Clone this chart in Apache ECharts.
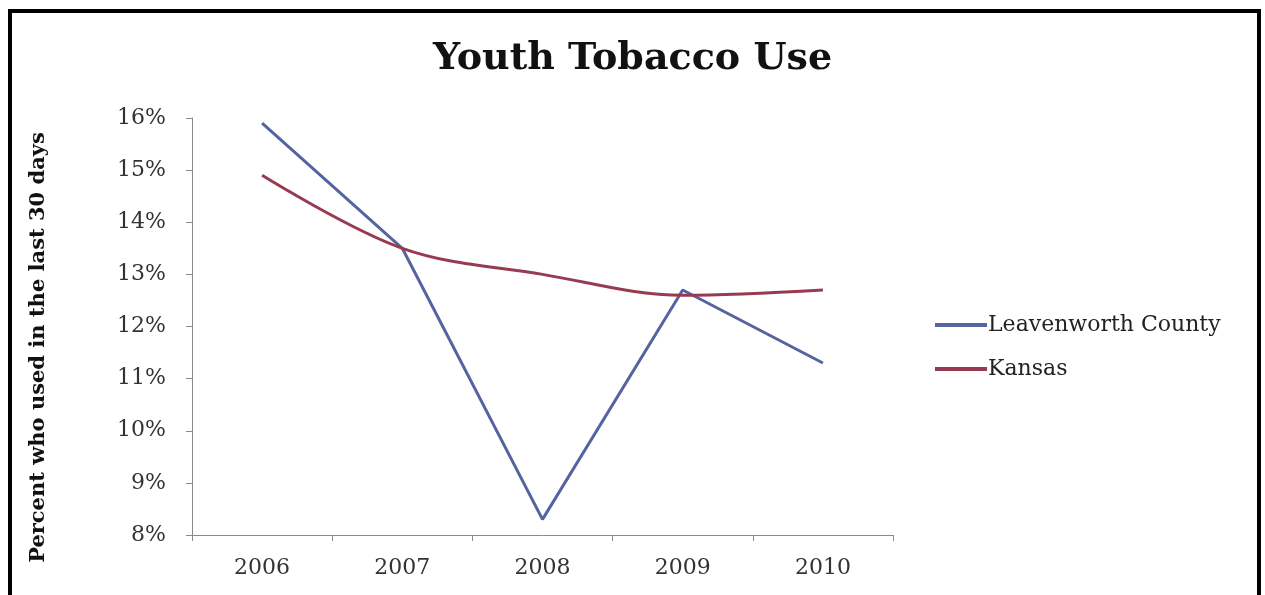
<!DOCTYPE html>
<html>
<head>
<meta charset="utf-8">
<script src="https://cdn.jsdelivr.net/npm/echarts@6/dist/echarts.min.js"></script>
<style>
html,body{margin:0;padding:0;background:#fff;}
#chart{width:1265px;height:595px;}
</style>
</head>
<body>
<div id="chart"></div>
<script>
const years = ['2006','2007','2008','2009','2010'];
const leavenworth = [15.9, 13.5, 8.3, 12.7, 11.3];
const kansas = [14.9, 13.5, 13.0, 12.6, 12.7];
const yTicks = {min: 8, max: 16, interval: 1};

const serif = '"DejaVu Serif", "Liberation Serif", serif';
const chart = echarts.init(document.getElementById('chart'));
chart.setOption({
  backgroundColor: '#ffffff',
  animation: false,
  graphic: [{
    type: 'rect',
    shape: {x: 10, y: 11, width: 1249, height: 600},
    style: {fill: 'none', stroke: '#000', lineWidth: 4},
    silent: true
  }],
  title: {
    text: 'Youth Tobacco Use',
    left: 'center',
    top: 35,
    textStyle: {fontFamily: serif, fontWeight: 'bold', fontSize: 38, color: '#111'}
  },
  legend: {
    orient: 'vertical',
    left: 930,
    top: 309,
    itemWidth: 52,
    itemHeight: 4,
    itemGap: 22,
    icon: 'rect',
    textStyle: {fontFamily: serif, fontSize: 22, color: '#222', padding: [0,0,0,-4]},
    data: ['Leavenworth County', 'Kansas']
  },
  grid: {left: 192, right: 372, top: 118, bottom: 60},
  xAxis: {
    type: 'category',
    data: years,
    boundaryGap: true,
    axisLine: {lineStyle: {color: '#8a8a8a', width: 1}},
    axisTick: {show: true, length: 6, alignWithLabel: false, lineStyle: {color: '#8a8a8a'}},
    axisLabel: {fontFamily: serif, fontSize: 22, color: '#333', margin: 22}
  },
  yAxis: {
    type: 'value',
    min: yTicks.min,
    max: yTicks.max,
    interval: yTicks.interval,
    name: 'Percent who used in the last 30 days',
    nameLocation: 'middle',
    nameRotate: 90,
    nameGap: 143,
    nameTextStyle: {fontFamily: serif, fontWeight: 'bold', fontSize: 21, color: '#111', padding: [0,42,0,0]},
    axisLine: {show: true, lineStyle: {color: '#8a8a8a', width: 1}},
    axisTick: {show: true, length: 6, lineStyle: {color: '#8a8a8a'}},
    splitLine: {show: false},
    axisLabel: {fontFamily: serif, fontSize: 22, color: '#333', margin: 26, formatter: '{value}%'}
  },
  series: [
    {
      name: 'Leavenworth County',
      type: 'line',
      data: leavenworth,
      symbol: 'none',
      smooth: false,
      lineStyle: {color: '#5563a0', width: 3},
      itemStyle: {color: '#5563a0'}
    },
    {
      name: 'Kansas',
      type: 'line',
      data: kansas,
      symbol: 'none',
      smooth: 0.35,
      lineStyle: {color: '#983b52', width: 3},
      itemStyle: {color: '#983b52'}
    }
  ]
});
</script>
</body>
</html>
